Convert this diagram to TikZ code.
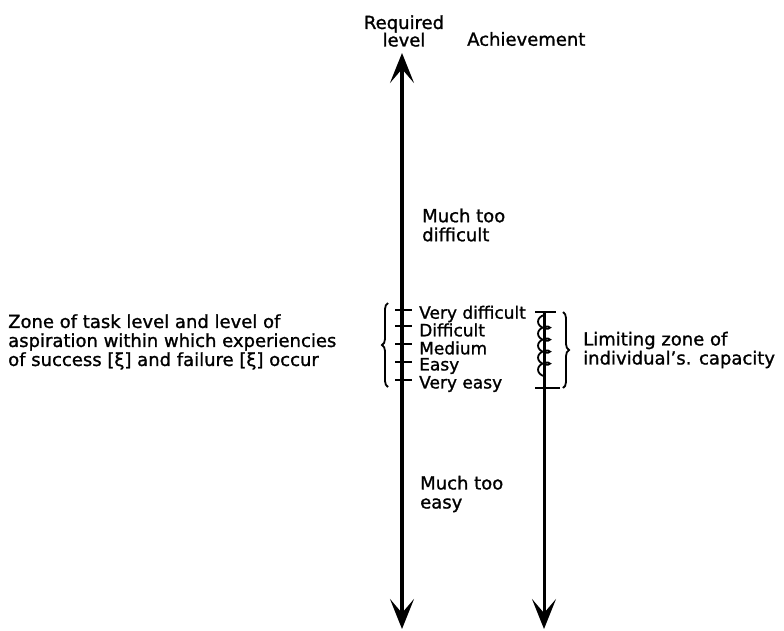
\documentclass[tikz,border=0pt]{standalone}
\usepackage{fontspec}
\setmainfont{DejaVu Sans}[FakeBold=1.2]
\usetikzlibrary{arrows.meta,decorations.pathmorphing,decorations.pathreplacing}
\begin{document}
\begin{tikzpicture}[x=1pt,y=-1pt,
  lbl/.style={font=\fontsize{18}{19}\selectfont, inner sep=0pt, anchor=west, align=left},
  tlbl/.style={font=\fontsize{17}{19}\selectfont, inner sep=0pt, anchor=west},
  clbl/.style={font=\fontsize{18}{17.5}\selectfont, inner sep=0pt, align=center},
  laxis/.style={line width=3.5pt, {Stealth[length=30pt,width=24pt,inset=14pt]}-{Stealth[length=30pt,width=24pt,inset=14pt]}},
  raxis/.style={line width=3pt, -{Stealth[length=30pt,width=24pt,inset=14pt]}},
  tickmark/.style={line width=2pt},
  bracestyle/.style={line width=1.8pt, decorate, decoration={brace, amplitude=6pt}},
  coilstyle/.style={line width=1.8pt, decorate, decoration={coil, amplitude=6pt, segment length=12pt, aspect=0.6, mirror}}]
\useasboundingbox (0,0) rectangle (784,630);

% axes
\coordinate (ltop) at (402,53);
\coordinate (lbot) at (402,629);
\coordinate (rtop) at (544,312);
\coordinate (rbot) at (544,629);
\draw[laxis] (lbot) -- (ltop);
\draw[raxis] (rtop) -- (rbot);

% headings
\node[clbl] (req) at (404,31) {Required\\level};
\node[lbl] (ach) at (467,39) {Achievement};

% left ticks and labels
\foreach \n/\y/\t in {vd/310/Very difficult, d/326/Difficult, m/344/Medium, e/362/Easy, ve/380/Very easy}{
  \coordinate (tl\n) at (395,\y);
  \coordinate (tr\n) at (412,\y);
  \draw[tickmark] (tl\n) -- (tr\n);
  \node[tlbl] (lab\n) at (419,\y+4) {\t};
}

% right ticks and coil
\coordinate (rt1) at (535,312);
\coordinate (rt2) at (556,312);
\coordinate (rb1) at (535,388);
\coordinate (rb2) at (560,388);
\draw[tickmark] (rt1) -- (rt2);
\draw[tickmark] (rb1) -- (rb2);
\coordinate (c1) at (544,315);
\coordinate (c2) at (544,386);
\draw[coilstyle] (c1) -- (c2);

% braces
\coordinate (lb1) at (388,387);
\coordinate (lb2) at (388,303);
\draw[bracestyle] (lb1) -- (lb2);
\coordinate (rb3) at (563,312);
\coordinate (rb4) at (563,388);
\draw[bracestyle] (rb3) -- (rb4);

% texts
\node[lbl] (zone) at (8,342) {Zone of task level and level of\\aspiration within which experiencies\\of success [ξ] and failure [ξ] occur};
\node[lbl] (limit) at (583,350) {Limiting zone of\\individual's. capacity};
\node[lbl] (mtd) at (422,225) {Much too\\difficult};
\node[lbl] (mte) at (420,494) {Much too\\easy};
\end{tikzpicture}
\end{document}
